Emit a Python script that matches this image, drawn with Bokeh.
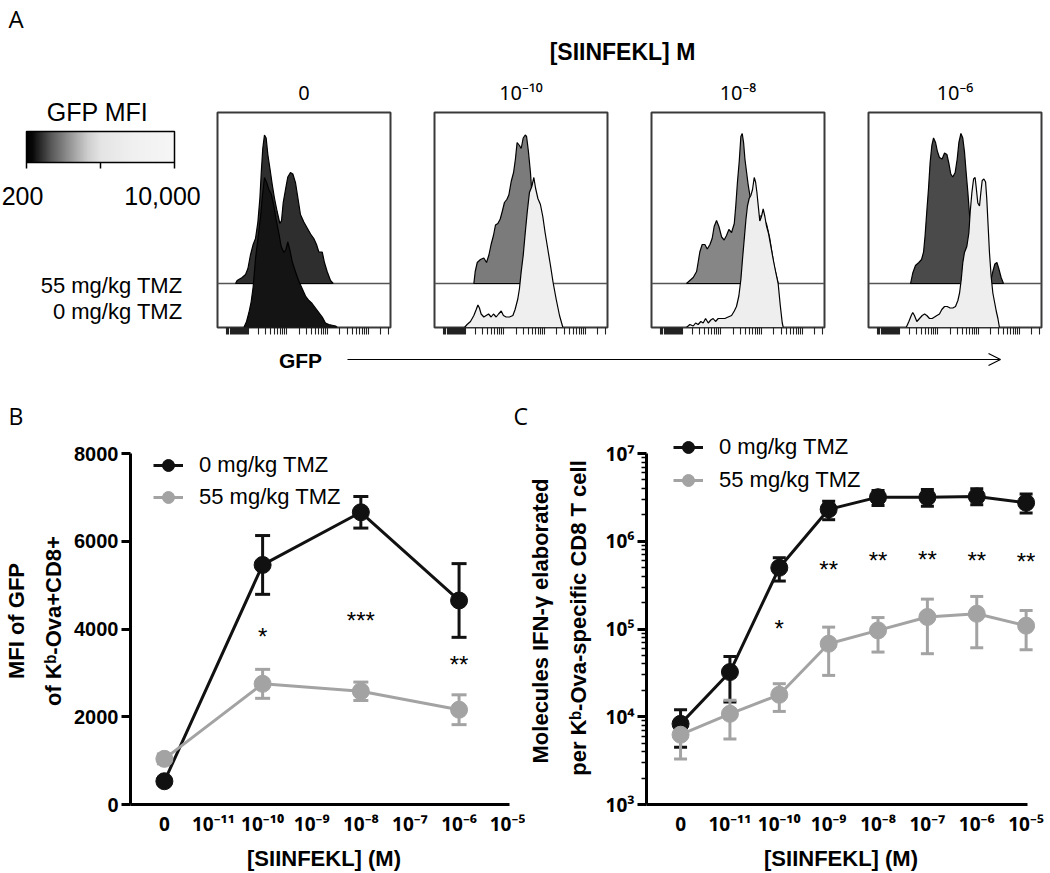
import math
from bokeh.plotting import figure
from bokeh.layouts import column, row
from bokeh.models import (ColumnDataSource, Label, Arrow, OpenHead, Span, Whisker, TeeHead,
                          FixedTicker, Legend, LegendItem, ColorBar, LinearColorMapper, Range1d)
from bokeh.core.properties import value
from bokeh.embed import file_html
from bokeh.resources import INLINE

FONT = "Liberation Sans"
SUP_FONT = "Noto Sans"
LETTER_FONT = "Open Sans"
BLACK = "#111111"
GRAY = "#a3a3a3"

# ------------------------------------------------------------------ data
# Panel A: GFP histograms (% of max) on a 0-1024 display channel axis
panel_titles = ["0", "10⁻¹⁰", "10⁻⁸", "10⁻⁶"]
group_labels = ["55 mg/kg TMZ", "0 mg/kg TMZ"]

p1_up_ch = [107,116,146,166,180,195,211,225,239,251,259,268,278,288,298,310,324,337,353,369,
            379,389,403,416,432,446,462,476,491,511,531,551,570,586,600,620,633,649,669,685]
p1_up = [0,2,4,6,10,19,26,30,41,57,74,90,99,97,86,77,66,57,48,40,
         42,54,63,71,74,73,67,57,46,41,37,33,30,26,21,21,14,8,2,0]
p1_lo_ch = [156,172,186,199,211,225,239,255,268,278,290,304,318,334,347,363,377,393,405,416,
            428,442,462,481,501,521,541,560,580,600,620,639,659,699,708]
p1_lo = [0,4,10,17,27,46,59,74,90,100,97,92,89,81,72,63,54,50,52,57,
         52,44,37,31,26,21,18,16,13,10,7,3,2,1,0]

p2_up_ch = [233,241,253,272,292,308,322,335,349,361,375,389,401,414,428,440,454,468,479,489,
            503,513,525,537,545,556,568,576,584,592]
p2_up = [0,8,14,16,17,14,19,26,32,39,40,43,48,54,56,59,68,74,83,94,
         92,90,97,99,98,88,74,61,34,0]
p2_lo_ch = [178,193,213,233,247,257,266,276,292,306,320,335,349,365,379,395,408,424,444,464,
            477,493,503,513,525,537,549,562,576,588,598,612,627,641,655,671,687,702,720,740,760]
p2_lo = [0,2,4,8,12,15,13,9,7,8,9,7,9,7,9,11,8,7,7,8,
         12,19,26,37,48,63,77,90,94,100,93,86,82,74,63,52,41,30,19,8,0]

p3_up_ch = [207,227,247,267,276,286,300,316,330,346,359,371,385,399,415,430,444,458,474,490,
            499,509,519,529,537,545,553,563,572,582,592,602,625,650,680,700,725,750]
p3_up = [0,2,4,8,14,21,26,26,23,26,30,38,42,38,31,29,32,36,34,40,
         52,68,81,98,100,94,83,74,66,59,52,46,45,45,40,30,12,0]
p3_lo_ch = [207,227,247,261,276,292,306,320,336,351,365,379,395,415,434,454,474,490,503,517,
            529,539,549,559,568,578,588,598,608,616,624,632,641,651,661,671,680,692,705,721,
            735,750,762,774,780]
p3_lo = [0,2,1,3,2,4,3,6,3,5,6,4,6,6,6,7,8,11,14,21,
         32,46,59,72,81,86,88,92,100,97,90,81,71,74,79,74,68,63,55,45,
         37,29,15,3,0]

p4_up_ch = [249,262,278,298,314,326,335,345,355,365,375,385,397,408,420,436,450,464,476,487,
            499,513,525,535,547,558,568,578,588,598,608,627,657,697,726,736,748,760,771,785,799]
p4_up = [0,7,12,14,16,21,32,48,63,81,92,97,94,88,84,83,87,86,80,73,
         71,74,83,94,100,97,88,74,61,46,23,14,8,3,3,8,13,14,10,4,0]
p4_lo_ch = [223,239,253,262,272,286,302,318,332,345,361,377,391,405,420,434,450,466,483,499,
            515,529,539,549,558,568,582,594,602,612,622,631,637,647,657,665,673,683,693,700,
            708,716,726,736,746,756,766,775]
p4_lo = [0,4,8,10,8,4,6,8,9,8,6,6,7,8,9,12,14,14,13,13,
         14,18,23,32,43,50,54,63,77,90,99,100,94,83,81,90,98,99,97,86,
         68,50,34,23,17,11,6,0]

hist_up_colors = ["#2e2e2e", "#7b7b7b", "#868686", "#4a4a4a"]
hist_lo_colors = ["#141414", "#efefef", "#eeeeee", "#eeeeee"]

gfp_mfi_low, gfp_mfi_high = 200, 10000
gfp_mfi_labels = ["200", "10,000"]

# Panels B / C: x positions are log10 of concentration ("0" drawn one decade below 10^-11)
conc_log = [-12, -11, -10, -9, -8, -7, -6, -5]
conc_labels = ["0", "10⁻¹¹", "10⁻¹⁰", "10⁻⁹", "10⁻⁸", "10⁻⁷", "10⁻⁶", "10⁻⁵"]
series_names = ["0 mg/kg TMZ", "55 mg/kg TMZ"]

b_x = [-12, -10, -8, -6]
b_tmz0 = [530, 5460, 6660, 4650]
b_tmz0_err = [60, 670, 360, 840]
b_tmz55 = [1040, 2750, 2580, 2160]
b_tmz55_err = [110, 330, 210, 340]
b_yticks = [0, 2000, 4000, 6000, 8000]
b_sig = ["*", "***", "**"]
b_sig_x = [-10, -8, -6]
b_sig_y = [3970, 4330, 3320]

c_x = [-12, -11, -10, -9, -8, -7, -6, -5]
c_tmz0 = [8300, 32300, 499000, 2.31e6, 3.18e6, 3.18e6, 3.24e6, 2.75e6]
c_tmz0_lo = [4500, 14700, 352000, 1.76e6, 2.56e6, 2.50e6, 2.60e6, 2.10e6]
c_tmz0_hi = [12000, 48700, 649000, 2.85e6, 3.79e6, 3.90e6, 3.97e6, 3.45e6]
c_tmz55 = [6240, 10800, 17800, 67900, 96400, 137000, 149000, 109000]
c_tmz55_lo = [3300, 5560, 11500, 29600, 54600, 52300, 61100, 58000]
c_tmz55_hi = [8690, 15400, 23800, 105000, 135000, 219000, 235000, 163000]
c_yticks = [1e3, 1e4, 1e5, 1e6, 1e7]
c_ytick_labels = ["10³", "10⁴", "10⁵", "10⁶", "10⁷"]
c_sig = ["*", "**", "**", "**", "**", "**"]
c_sig_x = [-10, -9, -8, -7, -6, -5]
c_sig_y = [1.19e5, 5.53e5, 7.07e5, 7.19e5, 7.07e5, 6.89e5]

# ------------------------------------------------------------------ helpers
def canvas_fig(x0, x1, y0, y1):
    """Figure whose data coordinates equal page pixels (y downwards)."""
    p = figure(width=x1 - x0, height=y1 - y0, x_range=Range1d(x0, x1), y_range=Range1d(y1, y0),
               x_axis_location=None, y_axis_location=None, min_border=0,
               toolbar_location=None, output_backend="svg")
    p.grid.visible = False
    p.outline_line_color = None
    return p


def txt(p, x, y, s, size, align="left", style="normal", font=FONT):
    p.add_layout(Label(x=x, y=y, text=s, text_align=align, text_baseline="middle",
                       text_font=font, text_font_size=size, text_font_style=style,
                       text_color="#000000"))


def gray_palette():
    anchors = [(0.0, 0), (0.04, 8), (0.16, 85), (0.30, 153), (0.41, 204),
               (0.50, 228), (0.73, 240), (1.0, 246)]
    pal = []
    for i in range(256):
        t = i / 255
        g = anchors[-1][1]
        for (t0, g0), (t1, g1) in zip(anchors, anchors[1:]):
            if t0 <= t <= t1:
                g = g0 + (g1 - g0) * (t - t0) / (t1 - t0)
                break
        v = int(round(g))
        pal.append("#{0:02x}{0:02x}{0:02x}".format(v))
    return pal

# ------------------------------------------------------------------ panel A layout
LEFT_W = 205
HIST_FRAME_LEFT = [217, 434, 651, 868]
HIST_FRAME_W = 173
HIST_FIG_EDGES = [LEFT_W, 412, 629, 846, 1050]
HIST_ROW_TOP, HIST_FRAME_TOP, HIST_FRAME_BOTTOM, HIST_ROW_BOTTOM = 107, 112, 327, 345

left = canvas_fig(0, LEFT_W, 0, HIST_ROW_BOTTOM)
txt(left, 8, 18, "A", "24px", font=LETTER_FONT)
txt(left, 97, 111.5, "GFP MFI", "25px", align="center")
mapper = LinearColorMapper(palette=gray_palette(), low=gfp_mfi_low, high=gfp_mfi_high)
mid_mfi = (gfp_mfi_low + gfp_mfi_high) / 2
cbar = ColorBar(color_mapper=mapper, orientation="horizontal", width=148, height=31,
                location=(26, 177), padding=0, margin=0,
                ticker=FixedTicker(ticks=[], minor_ticks=[gfp_mfi_low, mid_mfi, gfp_mfi_high]),
                label_standoff=0,
                major_tick_line_color=None,
                minor_tick_line_color="#000000", minor_tick_out=6, minor_tick_in=0,
                minor_tick_line_width=1.5,
                bar_line_color="#000000", bar_line_width=1.5,
                background_fill_alpha=0, border_line_color=None)
left.add_layout(cbar)
txt(left, 22, 195, gfp_mfi_labels[0], "25px", align="center")
txt(left, 162, 195, gfp_mfi_labels[1], "25px", align="center")
txt(left, 182, 284.5, group_labels[0], "22px", align="right")
txt(left, 182, 311, group_labels[1], "22px", align="right")

top = canvas_fig(LEFT_W, 1050, 0, HIST_ROW_TOP)
txt(top, 622, 51.5, "[SIINFEKL] M", "23px", align="center", style="bold")
for fl, t in zip(HIST_FRAME_LEFT, panel_titles):
    txt(top, fl + HIST_FRAME_W / 2, 92, t, "20px", align="center", font=SUP_FONT)

PX_PER_PCT = 1.5
HIST_YMAX = (HIST_FRAME_BOTTOM - HIST_FRAME_TOP) / PX_PER_PCT
HIST_OFFSET = 44 / PX_PER_PCT
DECADE = 242
HIST_DECADES = [410, 652, 894]
HIST_TICKS = [c for c in range(56, 188, 6)] + HIST_DECADES
for base in [168] + HIST_DECADES:
    for k in range(2, 10):
        c = base + DECADE * math.log10(k)
        if 230 < c < 1020:
            HIST_TICKS.append(round(c, 1))


def make_hist(up_ch, up_pct, up_col, lo_ch, lo_pct, lo_col, x0, x1, frame_left):
    mbl = frame_left - x0
    mbr = x1 - frame_left - HIST_FRAME_W
    p = figure(width=x1 - x0, height=HIST_ROW_BOTTOM - HIST_ROW_TOP,
               x_range=Range1d(0, 1024), y_range=Range1d(0, HIST_YMAX),
               min_border_left=mbl, min_border_right=mbr,
               min_border_top=HIST_FRAME_TOP - HIST_ROW_TOP,
               min_border_bottom=HIST_ROW_BOTTOM - HIST_FRAME_BOTTOM,
               y_axis_location=None, toolbar_location=None, output_backend="svg")
    p.grid.visible = False
    p.outline_line_color = "#3a3a3a"
    p.outline_line_width = 2
    p.add_layout(Span(location=HIST_OFFSET, dimension="width", line_color="#555555",
                      line_width=1.5, level="underlay"))
    p.patch(up_ch, [HIST_OFFSET + v for v in up_pct], fill_color=up_col,
            line_color="#000000", line_width=1.2)
    p.patch(lo_ch, lo_pct, fill_color=lo_col, line_color="#000000", line_width=1.2)
    ax = p.xaxis[0]
    ax.ticker = FixedTicker(ticks=[], minor_ticks=HIST_TICKS)
    ax.axis_line_color = None
    ax.major_tick_line_color = None
    ax.minor_tick_out = 7
    ax.minor_tick_in = 0
    ax.minor_tick_line_color = "#222222"
    ax.minor_tick_line_width = 1.1
    return p


hist_data = [(p1_up_ch, p1_up, p1_lo_ch, p1_lo), (p2_up_ch, p2_up, p2_lo_ch, p2_lo),
             (p3_up_ch, p3_up, p3_lo_ch, p3_lo), (p4_up_ch, p4_up, p4_lo_ch, p4_lo)]
hists = []
for i, (uc, u, lc, l) in enumerate(hist_data):
    hists.append(make_hist(uc, u, hist_up_colors[i], lc, l, hist_lo_colors[i],
                           HIST_FIG_EDGES[i], HIST_FIG_EDGES[i + 1], HIST_FRAME_LEFT[i]))

MID_BOTTOM = 431
mids = canvas_fig(0, 1050, HIST_ROW_BOTTOM, MID_BOTTOM)
txt(mids, 300, 359.5, "GFP", "21px", align="center", style="bold")
mids.add_layout(Arrow(x_start=347, y_start=359, x_end=1000, y_end=359, line_width=1.2,
                      line_color="#000000",
                      end=OpenHead(size=12, line_width=1.2, line_color="#000000")))
txt(mids, 8, 415, "B", "23px", font=LETTER_FONT)
txt(mids, 513, 415, "C", "23px", font=LETTER_FONT)

# ------------------------------------------------------------------ panels B, C
X_LO, X_AXIS_END, X_HI = -12.69, -4.97, -4.81
FRAME_TOP, AXIS_TOP, AXIS_BOTTOM = MID_BOTTOM, 453, 804
HEAD = (AXIS_BOTTOM - FRAME_TOP) / (AXIS_BOTTOM - AXIS_TOP)   # frame height / axis height
ROW_H = 873 - MID_BOTTOM


def style_axes(p, ylabel, ylabel_standoff):
    p.grid.visible = False
    p.outline_line_color = None
    for ax in (p.xaxis[0], p.yaxis[0]):
        ax.axis_line_width = 3
        ax.axis_line_color = "#000000"
        ax.major_label_text_font_style = "bold"
        ax.major_label_text_color = "#000000"
    xa = p.xaxis[0]
    xa.ticker = FixedTicker(ticks=conc_log)
    xa.bounds = (X_LO, X_AXIS_END)
    xa.major_label_overrides = dict(zip(conc_log, conc_labels))
    xa.major_label_text_font = SUP_FONT
    xa.major_label_text_font_size = "19px"
    xa.major_tick_out = 0
    xa.major_tick_in = 0
    xa.minor_tick_out = 0
    xa.minor_tick_in = 0
    xa.major_label_standoff = 6
    xa.axis_label = "[SIINFEKL] (M)"
    xa.axis_label_text_font = FONT
    xa.axis_label_text_font_style = "bold"
    xa.axis_label_text_font_size = "22px"
    xa.axis_label_text_color = "#000000"
    xa.axis_label_standoff = 6
    ya = p.yaxis[0]
    ya.major_tick_out = 9
    ya.major_tick_in = 0
    ya.major_tick_line_width = 3
    ya.major_label_standoff = 3
    ya.axis_label = ylabel
    ya.axis_label_text_font = FONT
    ya.axis_label_text_font_style = "bold"
    ya.axis_label_text_font_size = "22px"
    ya.axis_label_text_color = "#000000"
    ya.axis_label_text_line_height = 1.5
    ya.axis_label_standoff = ylabel_standoff


def add_series(p, xs, ys, lo, hi, color, cap):
    src = ColumnDataSource(dict(x=xs, y=ys, lo=lo, hi=hi))
    p.add_layout(Whisker(base="x", lower="lo", upper="hi", source=src, line_width=3,
                         line_color=color, level="underlay",
                         upper_head=TeeHead(size=cap, line_width=3, line_color=color),
                         lower_head=TeeHead(size=cap, line_width=3, line_color=color)))
    ln = p.line("x", "y", source=src, line_width=3, line_color=color)
    sc = p.scatter("x", "y", source=src, size=17, fill_color=color, line_color=color)
    return ln, sc


def add_legend(p, r0, r55, loc, spacing):
    p.add_layout(Legend(items=[LegendItem(label=series_names[0], renderers=list(r0)),
                               LegendItem(label=series_names[1], renderers=list(r55))],
                        location=loc, glyph_width=30, glyph_height=30, spacing=spacing,
                        padding=0, margin=0, label_standoff=16,
                        label_text_font=FONT, label_text_font_size="22px",
                        label_text_color="#000000",
                        background_fill_alpha=0, border_line_alpha=0))


def add_stars(p, xs, ys, labels):
    src = ColumnDataSource(dict(x=xs, y=ys, t=labels))
    p.text(x="x", y="y", text="t", source=src, text_align="center", text_baseline="middle",
           y_offset=6, text_font=value(FONT), text_font_size="24px", text_color="#000000")


B_X0, B_X1, B_FRAME_L = 0, 525, 127
C_X0, C_X1, C_FRAME_L = 525, 1050, 645
FRAME_W = 390

pB = figure(width=B_X1 - B_X0, height=ROW_H, x_range=Range1d(X_LO, X_HI),
            y_range=Range1d(0, b_yticks[-1] * HEAD),
            min_border_left=B_FRAME_L - B_X0, min_border_right=B_X1 - B_FRAME_L - FRAME_W,
            min_border_top=0, min_border_bottom=873 - AXIS_BOTTOM,
            toolbar_location=None, output_backend="svg")
style_axes(pB, "MFI of  GFP\nof  Kᵇ-Ova+CD8+", 5)
pB.yaxis[0].ticker = FixedTicker(ticks=b_yticks)
pB.yaxis[0].bounds = (b_yticks[0], b_yticks[-1])
pB.yaxis[0].major_label_text_font = FONT
pB.yaxis[0].major_label_text_font_size = "20px"
rb0 = add_series(pB, b_x, b_tmz0, [v - e for v, e in zip(b_tmz0, b_tmz0_err)],
                 [v + e for v, e in zip(b_tmz0, b_tmz0_err)], BLACK, 15)
rb55 = add_series(pB, b_x, b_tmz55, [v - e for v, e in zip(b_tmz55, b_tmz55_err)],
                  [v + e for v, e in zip(b_tmz55, b_tmz55_err)], GRAY, 15)
add_stars(pB, b_sig_x, b_sig_y, b_sig)
add_legend(pB, rb0, rb55, (23, 292), 2)

c_top = 10 ** (math.log10(c_yticks[-1]) + (math.log10(c_yticks[-1]) - math.log10(c_yticks[0])) * (HEAD - 1))
pC = figure(width=C_X1 - C_X0, height=ROW_H, x_range=Range1d(X_LO, X_HI),
            y_range=Range1d(c_yticks[0], c_top), y_axis_type="log",
            min_border_left=C_FRAME_L - C_X0, min_border_right=C_X1 - C_FRAME_L - FRAME_W,
            min_border_top=0, min_border_bottom=873 - AXIS_BOTTOM,
            toolbar_location=None, output_backend="svg")
style_axes(pC, "Molecules IFN-γ  elaborated\nper Kᵇ-Ova-specific CD8 T cell", 12)
pC.yaxis[0].ticker = FixedTicker(ticks=c_yticks,
                                 minor_ticks=[k * t for t in c_yticks[:-1] for k in range(2, 10)])
pC.yaxis[0].major_label_overrides = dict(zip(c_yticks, c_ytick_labels))
pC.yaxis[0].bounds = (c_yticks[0], c_yticks[-1])
pC.yaxis[0].major_label_text_font = SUP_FONT
pC.yaxis[0].major_label_text_font_size = "19px"
pC.yaxis[0].minor_tick_out = 5
pC.yaxis[0].minor_tick_in = 0
pC.yaxis[0].minor_tick_line_width = 1.5
rc0 = add_series(pC, c_x, c_tmz0, c_tmz0_lo, c_tmz0_hi, BLACK, 13)
rc55 = add_series(pC, c_x, c_tmz55, c_tmz55_lo, c_tmz55_hi, GRAY, 13)
add_stars(pC, c_sig_x, c_sig_y, c_sig)
add_legend(pC, rc0, rc55, (27, 309), 3)

layout = column(row(left, column(top, row(*hists))), mids, row(pB, pC))
open("out.html", "w").write(file_html(layout, INLINE))
